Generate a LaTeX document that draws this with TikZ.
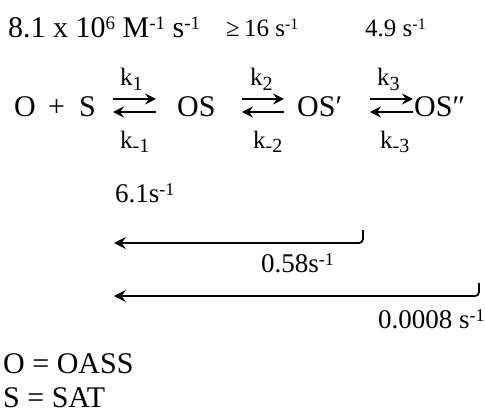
\documentclass[tikz,border=0pt]{standalone}
\usepackage{fontspec}
\setmainfont{Liberation Serif}
\usetikzlibrary{arrows.meta}
\newcommand\upx[1]{\raisebox{8pt}{\fontsize{19}{19}\selectfont #1}}
\newcommand\ups[1]{\raisebox{7pt}{\fontsize{16}{16}\selectfont #1}}
\newcommand\upr[1]{\raisebox{7pt}{\fontsize{18}{18}\selectfont #1}}
\newcommand\dnk[1]{\raisebox{-5pt}{\fontsize{20}{20}\selectfont #1}}
\begin{document}
\begin{tikzpicture}[x=1pt,y=-1pt,
  big/.style={inner sep=0pt,anchor=base west,font=\fontsize{30}{32}\selectfont},
  small/.style={inner sep=0pt,anchor=base west,font=\fontsize{25}{27}\selectfont},
  rate/.style={inner sep=0pt,anchor=base west,font=\fontsize{27}{29}\selectfont},
  klab/.style={inner sep=0pt,anchor=base west,font=\fontsize{25}{27}\selectfont},
  eqarrow/.style={line width=2.2pt,-{Stealth[length=11pt,width=11pt,inset=4pt]}},
  back/.style={line width=1.8pt,rounded corners=4pt,-{Stealth[length=12pt,width=12pt,inset=4.5pt]}}]
\useasboundingbox (0,0) rectangle (485,412);
% top rates
\node[big] (r1) at (8,38) {8.1 x 10\upx{6} M\upx{-1} s\upx{-1}};
\node[small] (r2) at (226,37) {≥\,16 s\ups{-1}};
\node[small] (r3) at (365,37) {4.9 s\ups{-1}};
% equation
\node[big] (nO) at (14,117) {O};
\node[big] (nplus) at (48,117) {+};
\node[big] (nS) at (79,117) {S};
\node[big] (nOS) at (177,117) {OS};
\node[big] (nOSp) at (297,117) {OS′};
\node[big] (nOSpp) at (414,117) {OS″};
% equilibrium arrows
\coordinate (a1l) at (113,99); \coordinate (a1r) at (156,99);
\coordinate (b1l) at (113,112); \coordinate (b1r) at (156,112);
\coordinate (a2l) at (242,99); \coordinate (a2r) at (284,99);
\coordinate (b2l) at (242,112); \coordinate (b2r) at (284,112);
\coordinate (a3l) at (370,99); \coordinate (a3r) at (413,99);
\coordinate (b3l) at (370,112); \coordinate (b3r) at (413,112);
\draw[eqarrow] (a1l) -- (a1r);
\draw[eqarrow] (b1r) -- (b1l);
\draw[eqarrow] (a2l) -- (a2r);
\draw[eqarrow] (b2r) -- (b2l);
\draw[eqarrow] (a3l) -- (a3r);
\draw[eqarrow] (b3r) -- (b3l);
% k labels
\node[klab] (k1) at (120,86) {k\dnk{1}};
\node[klab] (km1) at (120,148) {k\dnk{-1}};
\node[klab] (k2) at (250,86) {k\dnk{2}};
\node[klab] (km2) at (253,148) {k\dnk{-2}};
\node[klab] (k3) at (377,86) {k\dnk{3}};
\node[klab] (km3) at (380,148) {k\dnk{-3}};
% lower rates
\node[rate] (r4) at (115,202) {6.1s\upr{-1}};
\coordinate (h1) at (363,230); \coordinate (t1) at (114,243);
\draw[back] (h1) |- (t1);
\node[rate] (r5) at (261,272) {0.58s\upr{-1}};
\coordinate (h2) at (479,283); \coordinate (t2) at (114,296);
\draw[back] (h2) |- (t2);
\node[rate] (r6) at (378,328) {0.0008 s\upr{-1}};
% legend
\node[big] (l1) at (3,373) {O = OASS};
\node[big] (l2) at (3,407) {S = SAT};
\end{tikzpicture}
\end{document}
